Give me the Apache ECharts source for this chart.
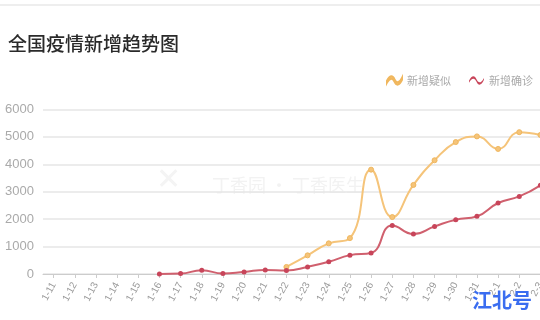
<!DOCTYPE html>
<html><head><meta charset="utf-8">
<script src="https://cdn.jsdelivr.net/npm/echarts@6/dist/echarts.min.js"></script>
<style>html,body{margin:0;padding:0;overflow:hidden;background:#fff;width:540px;height:320px}#c{width:580px;height:320px}</style>
</head><body><div id="c"></div>
<script>
var categories = ['1-11','1-12','1-13','1-14','1-15','1-16','1-17','1-18','1-19','1-20','1-21','1-22','1-23','1-24','1-25','1-26','1-27','1-28','1-29','1-30','1-31','2-1','2-2','2-3'];
var suspected = [null,null,null,null,null,null,null,null,null,null,null,257,680,1118,1309,3806,2077,3248,4148,4812,5019,4562,5173,5072];
var confirmed = [null,null,null,null,null,4,17,136,19,77,149,131,259,444,688,769,1771,1459,1737,1982,2102,2590,2829,3235];
var yTicks = [0,1000,2000,3000,4000,5000,6000];

var wave = 'path://M0,7 C3,1 6,1 8,5.5 C10,10 13,10 16,4 L16,6 C13,12.5 10,12.5 8,8 C6,3.5 3,3.5 0,9 Z';
var chart = echarts.init(document.getElementById('c'));
chart.setOption({
  animation: false,
  backgroundColor: '#fff',
  title: {text: '全国疫情新增趋势图', left: 3, top: 29, textStyle: {fontSize: 19, fontWeight: 500, color: '#2a2a2a', fontFamily: 'Noto Sans CJK SC'}},
  legend: {left: 381, top: 70, itemWidth: 15, itemHeight: 9, itemGap: 18,
    textStyle: {color: '#aaa', fontSize: 11, fontFamily: 'Noto Sans CJK SC'},
    data: [{name: '新增疑似', icon: wave}, {name: '新增确诊', icon: wave}]},
  graphic: [
    {type: 'rect', left: 0, top: 4, shape: {width: 580, height: 2}, style: {fill: '#eeeeee'}, z: 0},
    {type: 'text', left: 212, top: 176, style: {text: '丁香园 · 丁香医生', fill: '#f2f2f2', font: '18px "Noto Sans CJK SC"'}, z: 0},
    {type: 'text', left: 156, top: 166, style: {text: '✕', fill: '#f4f4f4', font: 'bold 30px "DejaVu Sans"'}, z: 0},
    {type: 'text', left: 472, top: 290, style: {text: '江北号', fill: '#3a6df0', font: 'bold 20px "Noto Sans CJK SC"'}, z: 100}
  ],
  grid: {left: 43, right: 29, top: 109.5, bottom: 46},
  xAxis: {type: 'category', data: categories, boundaryGap: true,
    axisLine: {lineStyle: {color: '#cccccc'}},
    axisTick: {show: true, alignWithLabel: true, length: 4, lineStyle: {color: '#cccccc'}},
    axisLabel: {rotate: 62, color: '#999', fontSize: 10, interval: 0, margin: 9, fontFamily: 'Liberation Sans'}},
  yAxis: {type: 'value', min: 0, max: 6000, interval: 1000,
    axisLine: {show: false}, axisTick: {show: false},
    axisLabel: {color: '#aaa', fontSize: 13, margin: 9, fontFamily: 'Liberation Sans',
      formatter: function (v) { return yTicks.indexOf(v) >= 0 ? String(v) : ''; }},
    splitLine: {lineStyle: {color: '#e6e6e6', width: 1.5}}},
  series: [
    {name: '新增疑似', type: 'line', data: suspected, smooth: true, symbol: 'circle', symbolSize: 5,
      itemStyle: {color: '#f5c47a', borderColor: '#f0b75e', borderWidth: 1},
      lineStyle: {color: '#f5c47a', width: 2}, z: 2},
    {name: '新增确诊', type: 'line', data: confirmed, smooth: true, symbol: 'circle', symbolSize: 5,
      itemStyle: {color: '#c8455a'},
      lineStyle: {color: '#d0606e', width: 2}, z: 3}
  ]
});
</script></body></html>
